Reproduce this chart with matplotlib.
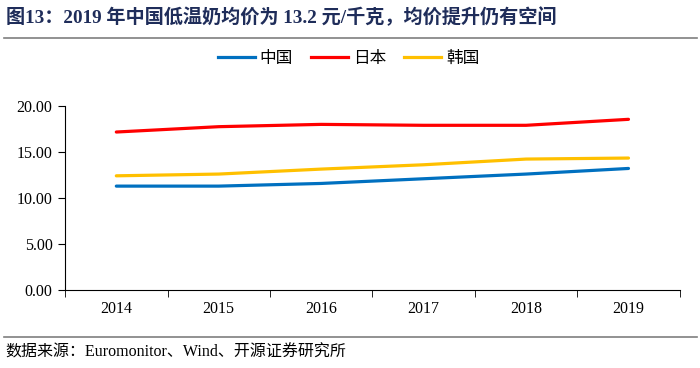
import numpy as np
import matplotlib
matplotlib.use("Agg")
import matplotlib.pyplot as plt
from matplotlib.lines import Line2D

years = ["2014", "2015", "2016", "2017", "2018", "2019"]
china = [11.29, 11.29, 11.58, 12.09, 12.60, 13.21]
japan = [17.17, 17.75, 18.00, 17.90, 17.90, 18.55]
korea = [12.41, 12.60, 13.14, 13.61, 14.23, 14.34]
series_names = ["中国", "日本", "韩国"]
yticks = [0, 5, 10, 15, 20]

serif = ["Liberation Serif", "Noto Sans CJK SC"]
cjk = ["Noto Sans CJK SC", "DejaVu Sans"]

fig = plt.figure(figsize=(7, 3.68), dpi=100)
ax = fig.add_axes([0.093, 0.212, 0.878, 0.500])

x = np.arange(len(years))
colors = ["#0070C0", "#FF0000", "#FFC000"]
for vals, c, name in zip([china, japan, korea], colors, series_names):
    ax.plot(x, vals, color=c, lw=2.3, label=name, solid_capstyle="round")

ax.set_xlim(-0.5, len(years) - 0.5)
ax.set_ylim(0, 20)
ax.set_yticks(yticks)
ax.set_yticklabels([f"{v:.2f}" for v in yticks], family=serif, fontsize=11.5)
ax.set_xticks(x)
ax.set_xticklabels(years, family=serif, fontsize=11.5)
ax.set_xticks(np.arange(-0.5, len(years)), minor=True)
ax.tick_params(axis="x", which="major", length=0, pad=8)
ax.tick_params(axis="x", which="minor", length=5, direction="out", color="black")
ax.tick_params(axis="y", length=5, direction="out", pad=4)
for s in ["top", "right"]:
    ax.spines[s].set_visible(False)
for s in ["left", "bottom"]:
    ax.spines[s].set_color("black")
    ax.spines[s].set_linewidth(0.8)

handles = [Line2D([0], [0], color=c, lw=2.3) for c in colors]
fig.legend(handles, series_names, loc="center", bbox_to_anchor=(0.498, 0.842),
           ncol=3, frameon=False, prop={"family": cjk, "size": 12},
           handlelength=2.2, handletextpad=0.3, columnspacing=1.1)

fig.text(0.008, 0.952, "图13：2019 年中国低温奶均价为 13.2 元/千克，均价提升仍有空间",
         family=serif, fontsize=13.8, fontweight="bold", color="#1F2D5A",
         ha="left", va="center")
fig.add_artist(Line2D([0.005, 0.995], [0.897, 0.897], color="#7F7F7F", lw=1.2))
fig.add_artist(Line2D([0.005, 0.995], [0.085, 0.085], color="#7F7F7F", lw=1.2))
fig.text(0.008, 0.043, "数据来源：Euromonitor、Wind、开源证券研究所",
         family=serif, fontsize=11.5, color="black", ha="left", va="center")

fig.savefig("out.png", dpi=100)
